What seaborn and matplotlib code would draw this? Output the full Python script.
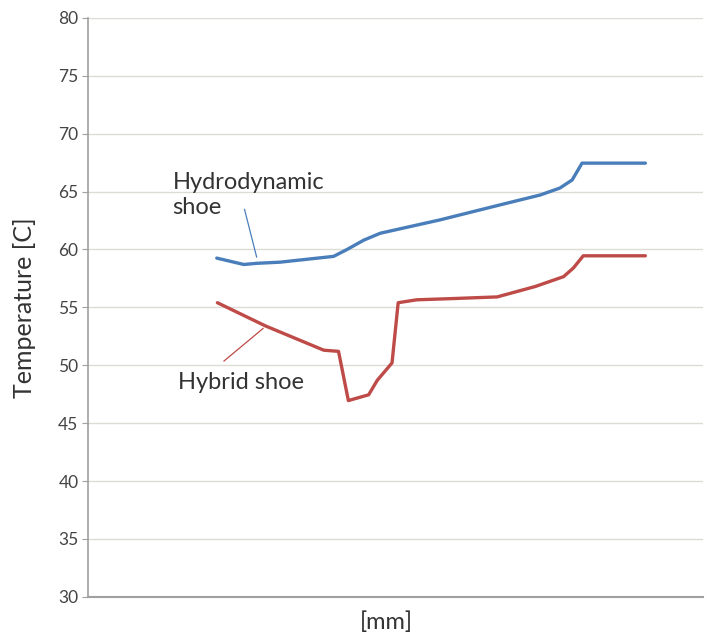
import numpy as np
import pandas as pd
import matplotlib
matplotlib.use("Agg")
import matplotlib.pyplot as plt
import seaborn as sns

# positions along the shoe (no tick labels in the original, arbitrary mm scale)
hydro_x = [20.9, 25.3, 27.4, 31.2, 39.9, 42.1, 44.8, 47.5, 57.2, 67.0, 73.5, 76.7, 78.7, 80.3, 90.6]
hydro_t = [59.25, 58.7, 58.8, 58.9, 59.4, 60.0, 60.8, 61.4, 62.55, 63.85, 64.7, 65.3, 66.0, 67.45, 67.45]

hybrid_x = [21.0, 28.8, 38.3, 40.7, 42.3, 45.6, 47.0, 49.4, 50.4, 53.4, 58.9, 66.5, 72.7, 77.3, 78.9, 80.5, 90.6]
hybrid_t = [55.4, 53.4, 51.3, 51.2, 46.95, 47.45, 48.7, 50.2, 55.4, 55.65, 55.75, 55.9, 56.8, 57.65, 58.4, 59.45, 59.45]

df = pd.concat([
    pd.DataFrame({"x": hydro_x, "T": hydro_t, "shoe": "Hydrodynamic shoe"}),
    pd.DataFrame({"x": hybrid_x, "T": hybrid_t, "shoe": "Hybrid shoe"}),
])

sns.set_style("white")
plt.rcParams["font.family"] = ["Lato", "DejaVu Sans"]

fig = plt.figure(figsize=(7.06, 6.35), dpi=100)
ax = fig.add_axes([0.125, 0.06, 0.871, 0.912])

sns.lineplot(data=df, x="x", y="T", hue="shoe", sort=False, estimator=None,
             palette={"Hydrodynamic shoe": "#4a7ebb", "Hybrid shoe": "#be4b48"},
             linewidth=2.4, legend=False, ax=ax)

ax.set_xlim(0, 100)
ax.set_ylim(30, 80)
ax.set_yticks(np.arange(30, 81, 5))
ax.set_xticks([])
ax.yaxis.grid(True, color="#dcdcd4", linewidth=1.0)
ax.set_axisbelow(True)
for s in ["top", "right"]:
    ax.spines[s].set_visible(False)
ax.spines["left"].set_color("#a0a0a0")
ax.spines["bottom"].set_color("#a0a0a0")
ax.spines["left"].set_linewidth(1.2)
ax.spines["bottom"].set_linewidth(1.5)
ax.tick_params(axis="y", length=4, color="#a0a0a0", labelsize=12.5, labelcolor="#444444", pad=3, left=True)

ax.set_ylabel("Temperature [C]", fontsize=18, color="#333333", labelpad=16)
ax.set_xlabel("[mm]", fontsize=17, color="#333333")
ax.xaxis.set_label_coords(0.485, -0.025, transform=ax.transAxes)
ax.xaxis.label.set_va("top")

# annotations
ax.text(13.7, 64.7, "Hydrodynamic\nshoe", fontsize=17, color="#333333", va="center", ha="left", linespacing=1.25)
ax.annotate("", xy=(27.5, 59.1), xytext=(25.3, 63.7),
            arrowprops=dict(arrowstyle="-", color="#4a7ebb", lw=0.9))
ax.text(14.6, 48.5, "Hybrid shoe", fontsize=17, color="#333333", va="center", ha="left")
ax.annotate("", xy=(28.8, 53.34), xytext=(21.7, 50.2),
            arrowprops=dict(arrowstyle="-", color="#be4b48", lw=0.9))

fig.savefig("out.png", dpi=100)
